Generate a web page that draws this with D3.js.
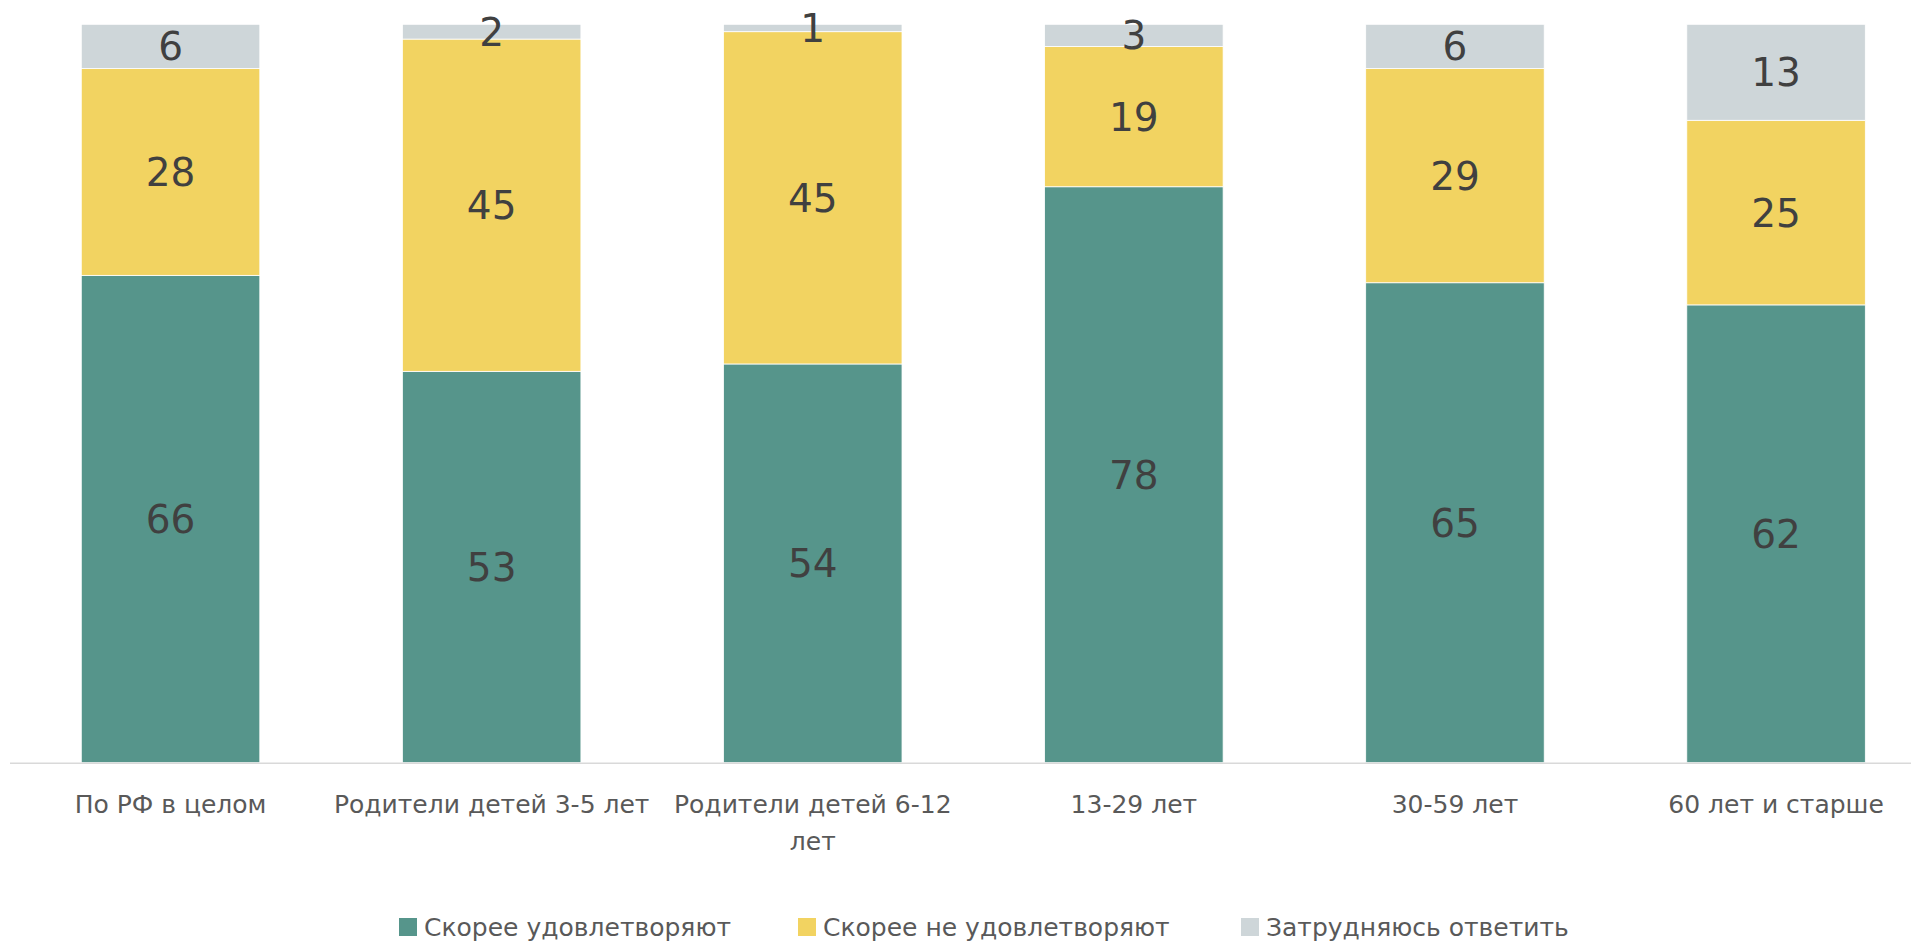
<!DOCTYPE html>
<html><head><meta charset="utf-8">
<script src="https://cdn.jsdelivr.net/npm/d3@7"></script>
<style>html,body{margin:0;padding:0;background:#fff;}svg{display:block;}</style>
</head><body>
<script>
const categories = ["По РФ в целом", "Родители детей 3-5 лет", "Родители детей 6-12 лет", "13-29 лет", "30-59 лет", "60 лет и старше"];
const seriesNames = ["Скорее удовлетворяют", "Скорее не удовлетворяют", "Затрудняюсь ответить"];
const satisfied = [66, 53, 54, 78, 65, 62];
const notSatisfied = [28, 45, 45, 19, 29, 25];
const hardToSay = [6, 2, 1, 3, 6, 13];
const colors = ["#56958B", "#F2D361", "#CED6D9"];

const W = 1911, H = 943;
const svg = d3.select("body").append("svg").attr("width", W).attr("height", H);

const rows = categories.map((c, i) => ({cat: c, s0: satisfied[i], s1: notSatisfied[i], s2: hardToSay[i]}));
const stack = d3.stack().keys(["s0", "s1", "s2"]);
const series = stack(rows);

const x = d3.scaleBand().domain(categories).range([10, 10 + 6 * 321.1]).paddingInner(0.444).paddingOuter(0.222);
const y = d3.scaleLinear().domain([0, 100]).range([762.7, 24.3]);

const font = "'DejaVu Sans', sans-serif";

series.forEach((s, si) => {
  const g = svg.append("g");
  g.selectAll("rect").data(s).join("rect")
    .attr("x", d => x(d.data.cat))
    .attr("width", x.bandwidth())
    .attr("y", d => y(d[1]))
    .attr("height", d => y(d[0]) - y(d[1]))
    .attr("fill", colors[si])
    .attr("stroke", "#ffffff").attr("stroke-width", 0.8);
});

series.forEach((s, si) => {
  svg.append("g").selectAll("text").data(s).join("text")
    .attr("x", d => x(d.data.cat) + x.bandwidth() / 2)
    .attr("y", d => (y(d[0]) + y(d[1])) / 2)
    .attr("dy", "0.36em")
    .attr("text-anchor", "middle")
    .attr("font-family", font).attr("font-size", 39)
    .attr("fill", "#404040")
    .text(d => d[1] - d[0]);
});

// axis
const axis = d3.axisBottom(x).tickSize(0).tickPadding(0);
const ax = svg.append("g").attr("transform", `translate(0,${y(0)})`).call(axis);
ax.select(".domain").remove();
svg.append("line").attr("x1", 10).attr("x2", W).attr("y1", y(0) + 0.5).attr("y2", y(0) + 0.5)
  .attr("stroke", "#D9D9D9").attr("stroke-width", 1.6);

ax.selectAll(".tick text")
  .attr("font-family", font).attr("font-size", 25).attr("fill", "#595959")
  .attr("y", 50).attr("dy", 0)
  .each(function(d) {
    const t = d3.select(this);
    const words = d.split(/\s+/);
    t.text(null);
    const maxW = x.step() - 2;
    let line = [];
    let lineNo = 0;
    let tspan = t.append("tspan").attr("x", 0).attr("y", 50);
    words.forEach(w => {
      line.push(w);
      tspan.text(line.join(" "));
      if (tspan.node().getComputedTextLength() > maxW && line.length > 1) {
        line.pop();
        tspan.text(line.join(" "));
        line = [w];
        lineNo++;
        tspan = t.append("tspan").attr("x", 0).attr("y", 50 + lineNo * 37).text(w);
      }
    });
  });

// legend
const legendItems = [
  {name: seriesNames[0], color: colors[0], x: 399},
  {name: seriesNames[1], color: colors[1], x: 798},
  {name: seriesNames[2], color: colors[2], x: 1241}
];
const lg = svg.append("g");
legendItems.forEach(it => {
  lg.append("rect").attr("x", it.x).attr("y", 918).attr("width", 18).attr("height", 18).attr("fill", it.color);
  lg.append("text").attr("x", it.x + 25).attr("y", 927).attr("dy", "0.36em")
    .attr("font-family", font).attr("font-size", 25).attr("fill", "#595959").text(it.name);
});
</script>
</body></html>
